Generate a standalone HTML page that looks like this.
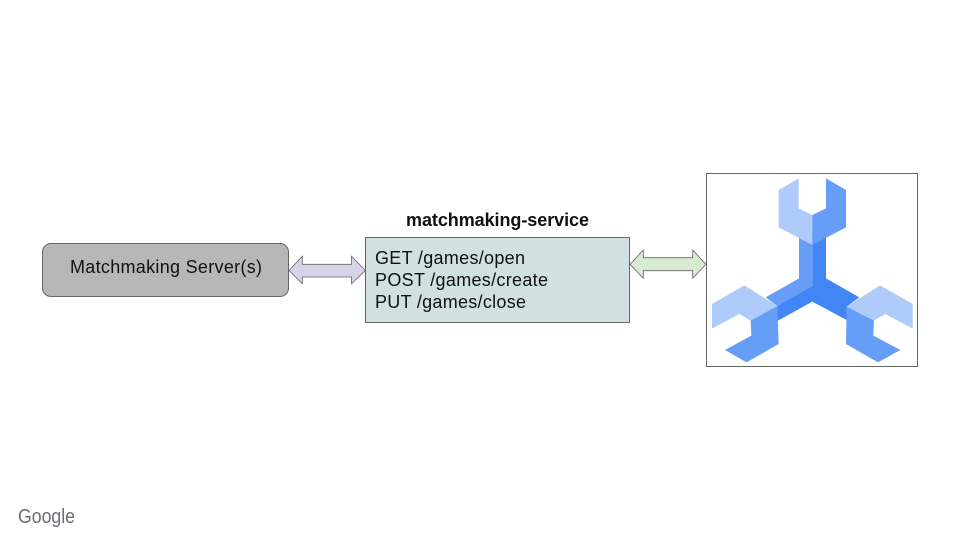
<!DOCTYPE html>
<html>
<head>
<meta charset="utf-8">
<style>
html,body{margin:0;padding:0;background:#fff;width:960px;height:540px;overflow:hidden}
svg{display:block}
text{font-family:"Liberation Sans",sans-serif;fill:#111}
</style>
</head>
<body>
<svg width="960" height="540" viewBox="0 0 960 540" xmlns="http://www.w3.org/2000/svg">
<rect x="42.5" y="243.5" width="246" height="53" rx="8.5" fill="#b7b7b7" stroke="#666" stroke-width="1"/>
<text x="70" y="273" font-size="18" textLength="192" lengthAdjust="spacing">Matchmaking Server(s)</text>

<polygon points="289,270.5 302.3,256.2 302.3,264.3 351.5,264.3 351.5,256.2 365.3,270.5 351.5,283.8 351.5,277 302.3,277 302.3,283.8" fill="#d9d2e9" stroke="#666" stroke-width="0.8"/>

<text x="406" y="226" font-size="18" font-weight="bold" textLength="183" lengthAdjust="spacing">matchmaking-service</text>
<rect x="365.5" y="237.5" width="264" height="85" fill="#d0e0e3" stroke="#666" stroke-width="1"/>
<text x="375" y="264" font-size="18" textLength="150" lengthAdjust="spacing">GET /games/open</text>
<text x="375" y="286" font-size="18" textLength="173" lengthAdjust="spacing">POST /games/create</text>
<text x="375" y="308" font-size="18" textLength="151" lengthAdjust="spacing">PUT /games/close</text>

<polygon points="630,264.3 643.3,250 643.3,257.7 692.7,257.7 692.7,250 706,264.3 692.7,278.3 692.7,270.7 643.3,270.7 643.3,278.3" fill="#d9ead3" stroke="#666" stroke-width="0.8"/>

<rect x="706.5" y="173.5" width="211" height="193" fill="#fff" stroke="#666" stroke-width="1"/>
<g transform="translate(700 165) scale(0.33333)">
<polygon points="337,205 378,205 378,340 478,397 440,425 440,465 337,410 232,468 232,423 337,362" fill="#4285f4"/>
<polygon points="297,205 337,205 337,362 232,423 197,397 297,340" fill="#669df6"/>
<polygon points="296,40 236,75 236,187 337,240 337,150 296,130" fill="#aecbfa"/>
<polygon points="378,40 438,75 438,187 337,240 337,150 378,130" fill="#669df6"/>
<polygon points="36,417 133,361 232,423 152,467 118,447 36,491" fill="#aecbfa"/>
<polygon points="232,423 236,537 140,592 75,555 154,512 152,467" fill="#669df6"/>
<polygon points="440,425 540,361 638,417 638,491 556,447 522,467" fill="#aecbfa"/>
<polygon points="440,425 522,467 520,512 601,555 534,592 438,537" fill="#669df6"/>
</g>

<text x="18" y="523" font-size="20" style="fill:#6a6e73" textLength="57" lengthAdjust="spacingAndGlyphs">Google</text>
</svg>
</body>
</html>
